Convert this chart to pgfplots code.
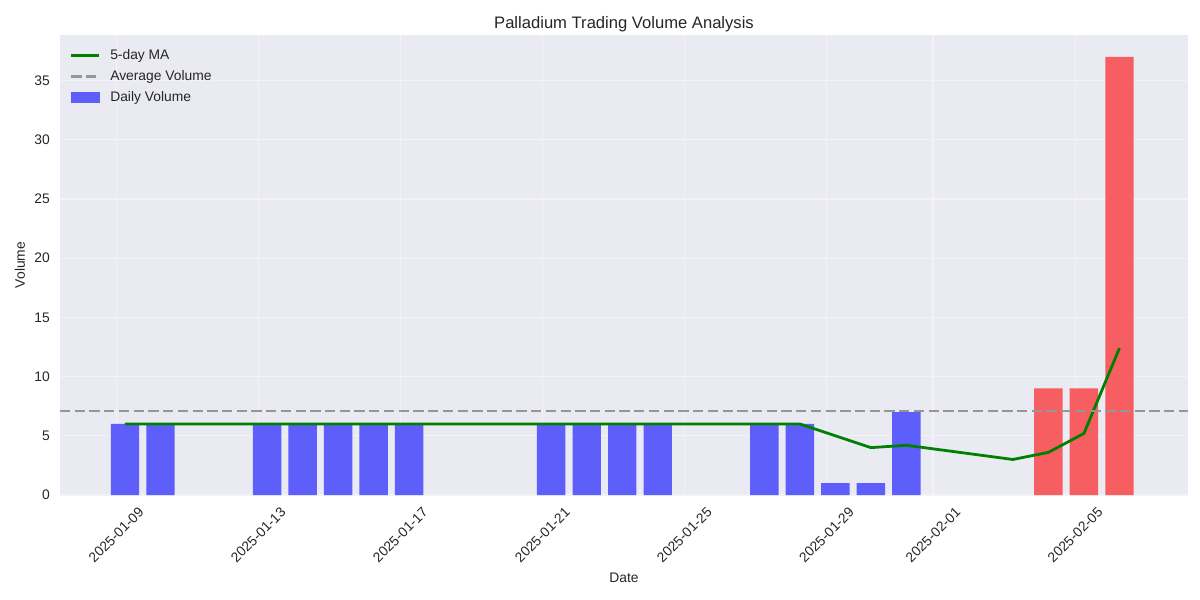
\documentclass[border=0pt]{standalone}
\usepackage{fontspec}
\setmainfont{Liberation Sans}
\usepackage{pgfplots}
\pgfplotsset{compat=1.18}

\definecolor{bgc}{RGB}{234,234,242}
\definecolor{gridc}{RGB}{242,242,247}
\definecolor{barblue}{RGB}{94,94,250}
\definecolor{barred}{RGB}{246,94,97}
\definecolor{mac}{RGB}{0,128,0}
\definecolor{avgc}{RGB}{150,150,150}
\definecolor{textc}{RGB}{38,38,38}

\pgfplotsset{
    mylinelegend/.style={legend image code/.code={\draw[##1] (0bp,0bp) -- (20bp,0bp);}},
    myarealegend/.style={legend image code/.code={\fill[##1] (0bp,-3.5bp) rectangle (20bp,3.5bp);}},
}

\begin{document}
\begin{tikzpicture}
% figure 1200x600 px, 1px = 0.72bp, axis box from (60,35) to (1188,495)
\useasboundingbox (-43.2bp,-75.6bp) rectangle (820.8bp,356.4bp);
\begin{axis}[
    scale only axis,
    width=812.16bp,
    height=331.2bp,
    xmin=-1.83, xmax=29.93,
    ymin=0, ymax=38.85,
    axis background/.style={fill=bgc},
    axis line style={draw=none},
    major tick length=0pt,
    grid=major,
    grid style={color=gridc, line width=0.8bp},
    xtick={-0.25,3.75,7.75,11.75,15.75,19.75,22.75,26.75},
    xticklabels={2025-01-09,2025-01-13,2025-01-17,2025-01-21,2025-01-25,2025-01-29,2025-02-01,2025-02-05},
    ytick={0,5,...,35},
    /pgf/number format/assume math mode=true,
    ticklabel style={font=\fontsize{10}{12}\selectfont, text=textc},
    xticklabel style={yshift=-28.8bp, rotate=45, anchor=center},
    yticklabel style={inner sep=0pt, xshift=-7.2bp},
    title={Palladium Trading Volume Analysis},
    title style={at={(axis description cs:0.5,1)}, anchor=base, yshift=-1bp,
        font=\fontsize{12}{14}\selectfont, text=textc},
    xlabel={Date},
    xlabel style={at={(axis description cs:0.5,-0.168)}, anchor=north, inner sep=0pt,
        font=\fontsize{10}{12}\selectfont, text=textc},
    ylabel={Volume},
    ylabel style={at={(axis description cs:-0.0355,0.5)}, anchor=center, inner sep=0pt,
        font=\fontsize{10}{12}\selectfont, text=textc},
    legend style={at={(axis description cs:0,1)}, anchor=north west,
        xshift=7bp, yshift=-9bp, draw=none, fill=none,
        font=\fontsize{10}{12}\selectfont, text=textc,
        row sep=3.5bp, column sep=6bp, inner sep=0pt,
        nodes={text height=7.5bp, text depth=2bp, inner sep=1bp}},
    legend cell align=left,
]

% daily volume (days counted from 2025-01-09)
\addplot[ybar, bar width=0.8, bar shift=0pt, fill=barblue, draw=none, forget plot]
    coordinates {
        (0,6)(1,6)(4,6)(5,6)(6,6)(7,6)(8,6)
        (12,6)(13,6)(14,6)(15,6)
        (18,6)(19,6)(20,1)(21,1)(22,7)
    };
\addplot[ybar, bar width=0.8, bar shift=0pt, fill=barred, draw=none, forget plot]
    coordinates {
        (26,9)(27,9)(28,37)
    };

% 5-day moving average
\addplot[mac, line width=2bp, forget plot]
    coordinates {
        (0,6)(1,6)(4,6)(5,6)(6,6)(7,6)(8,6)
        (12,6)(13,6)(14,6)(15,6)
        (18,6)(19,6)(20,5)(21,4)(22,4.2)
        (25,3.0)(26,3.6)(27,5.2)(28,12.4)
    };

% average volume
\addplot[avgc, line width=2bp, dash pattern=on 7.4bp off 3.2bp, forget plot]
    coordinates {(-1.83,7.1)(29.93,7.1)};

\addlegendimage{mac, line width=2bp, mylinelegend}
\addlegendentry{5-day MA}
\addlegendimage{avgc, line width=2bp, dash pattern=on 7.4bp off 3.2bp, mylinelegend}
\addlegendentry{Average Volume}
\addlegendimage{barblue, myarealegend}
\addlegendentry{Daily Volume}
\end{axis}
\end{tikzpicture}
\end{document}
